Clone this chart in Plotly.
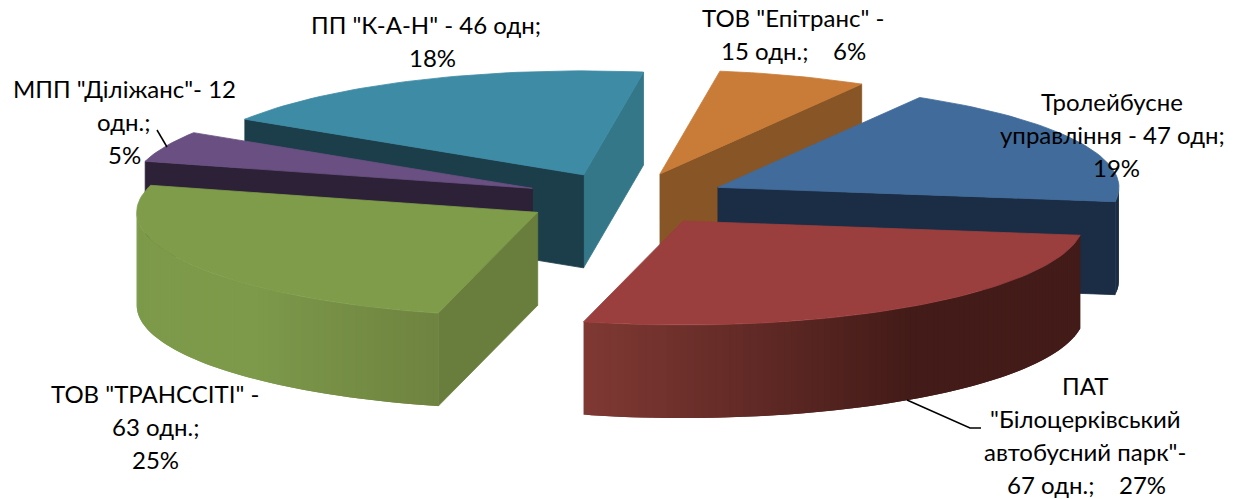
import math
import plotly.graph_objects as go

# ---- data ----
carriers = ["Тролейбусне управління", "ПАТ Білоцерківський автобусний парк", "ТОВ ТРАНССІТІ",
            "МПП Діліжанс", "ПП К-А-Н", "ТОВ Епітранс"]
units = [47, 67, 63, 12, 46, 15]
label_lines = [
    ["Тролейбусне", "управління - 47 одн;", "19%"],
    ["ПАТ", "\"Білоцерківський", "автобусний парк\"-", "67 одн.;    27%"],
    ["ТОВ \"ТРАНССІТІ\" -", "63 одн.;", "25%"],
    ["МПП \"Діліжанс\"- 12", "одн.;", "5%"],
    ["ПП \"К-А-Н\" - 46 одн;", "18%"],
    ["ТОВ \"Епітранс\" -", "15 одн.;    6%"],
]
label_anchor_x = [[1112, 1112, 1116], [1085, 1085, 1085, 1086], [155, 155, 155],
                  [124, 123, 124], [426, 432], [793, 793]]
label_first_y = [101, 385, 393, 88, 24, 17]

top_colors = ["#416B9B", "#9B3F3E", "#7F9C4A", "#6A5082", "#3E8BA5", "#C97B38"]
side_colors = ["#1B2D44", "#431B18", "#697D3C", "#2C2136", "#1C3E4A", "#875526"]
end_colors = ["#1B2D44", "#431B18", "#697D3C", "#2C2136", "#347789", "#875526"]
# wall shading: (angle, colour) stops, angle in degrees
wall_stops = [
    [(0, "#1B2D44"), (-10, "#1B2D44")],
    [(-105, "#813934"), (-56, "#431B18"), (-8, "#431B18")],
    [(-195, "#7C9A4A"), (-135, "#7D9A4A"), (-104, "#6E8340")],
    [(0, "#2C2136"), (1, "#2C2136")],
    [(0, "#1C3E4A"), (1, "#1C3E4A")],
    [(0, "#875526"), (1, "#875526")],
]
paint_order = [5, 0, 4, 3, 2, 1]

# ---- pie geometry ----
W, H = 1241, 499
CX, CY = 626, 199
RX, RY = 401, 104
DEPTH = 93
EXPLODE = 0.255
FIRST_ANGLE = 59.8
LINE_GAP = 33


def hex_rgb(c):
    return tuple(int(c[i:i + 2], 16) for i in (1, 3, 5))


def shade(stops, ang):
    s = sorted(stops)
    if ang <= s[0][0]:
        return s[0][1]
    if ang >= s[-1][0]:
        return s[-1][1]
    for (a0, c0), (a1, c1) in zip(s, s[1:]):
        if a0 <= ang <= a1:
            t = (ang - a0) / (a1 - a0)
            r0, r1 = hex_rgb(c0), hex_rgb(c1)
            return "#%02X%02X%02X" % tuple(round(p + (q - p) * t) for p, q in zip(r0, r1))
    return s[-1][1]


def pt(ax, ay, ang, dz=0):
    return ax + RX * math.cos(math.radians(ang)), ay - RY * math.sin(math.radians(ang)) + dz


def poly(fig, pts, color, stroke=0.8):
    xs = [p[0] for p in pts] + [pts[0][0]]
    ys = [p[1] for p in pts] + [pts[0][1]]
    fig.add_trace(go.Scatter(x=xs, y=ys, mode="lines", fill="toself", fillcolor=color,
                             line=dict(color=color, width=stroke), hoverinfo="skip", showlegend=False))


total = sum(units)
slices = []
ang = FIRST_ANGLE
for v in units:
    sweep = v / total * 360
    slices.append((ang - sweep, ang))
    ang -= sweep

fig = go.Figure()
for i in paint_order:
    a0, a1 = slices[i]  # a0 < a1, clockwise from a1 to a0
    mid = (a0 + a1) / 2
    ax = CX + EXPLODE * RX * math.cos(math.radians(mid))
    ay = CY - EXPLODE * RY * math.sin(math.radians(mid))

    # radial faces that look toward the viewer
    for edge, sign in ((a0, -1), (a1, 1)):
        ny = sign * math.cos(math.radians(edge))
        if ny < 0:
            p = pt(ax, ay, edge)
            col = end_colors[i] if edge == a0 else side_colors[i]
            poly(fig, [(ax, ay), p, (p[0], p[1] + DEPTH), (ax, ay + DEPTH)], col)

    # outer wall: overlapping strips painted in sequence, so no seams appear
    step = 1.0
    a = a0
    while a < a1:
        b = min(a + step, a1)
        if math.sin(math.radians((a + b) / 2)) < 0.02:
            c = min(b + step, a1)
            if math.sin(math.radians(c)) > 0.02:
                c = b
            pa, pc = pt(ax, ay, a), pt(ax, ay, c)
            mid_p = pt(ax, ay, (a + c) / 2)
            poly(fig, [pa, mid_p, pc, (pc[0], pc[1] + DEPTH), (mid_p[0], mid_p[1] + DEPTH),
                       (pa[0], pa[1] + DEPTH)],
                 shade(wall_stops[i], (a + b) / 2), stroke=0)
        a = b

    # top face
    n = max(4, int((a1 - a0) / 1.5))
    rim = [pt(ax, ay, a0 + (a1 - a0) * k / n) for k in range(n + 1)]
    poly(fig, [(ax, ay)] + rim, top_colors[i])

# leader lines
leader_x = [[907, 970, 981], [167, 157]]
leader_y = [[400, 428, 428], [147, 130]]
for lx, ly in zip(leader_x, leader_y):
    fig.add_trace(go.Scatter(x=lx, y=ly, mode="lines", line=dict(color="#000000", width=1.5),
                             hoverinfo="skip", showlegend=False))

annotations = []
for lines, xs, y0 in zip(label_lines, label_anchor_x, label_first_y):
    for k, (line, x) in enumerate(zip(lines, xs)):
        annotations.append(dict(x=x, y=y0 + k * LINE_GAP, text=line, showarrow=False,
                                xanchor="center", yanchor="middle",
                                font=dict(family="Lato, Open Sans, sans-serif", size=24, color="#000000")))

fig.update_layout(
    width=W, height=H, margin=dict(l=0, r=0, t=0, b=0),
    paper_bgcolor="#FFFFFF", plot_bgcolor="#FFFFFF", showlegend=False,
    xaxis=dict(range=[0, W], visible=False, fixedrange=True),
    yaxis=dict(range=[H, 0], visible=False, fixedrange=True),
    annotations=annotations,
)
fig.write_html("out.html", config={"displayModeBar": False},
               post_script="document.body.style.margin='0';document.body.style.overflow='hidden';")
